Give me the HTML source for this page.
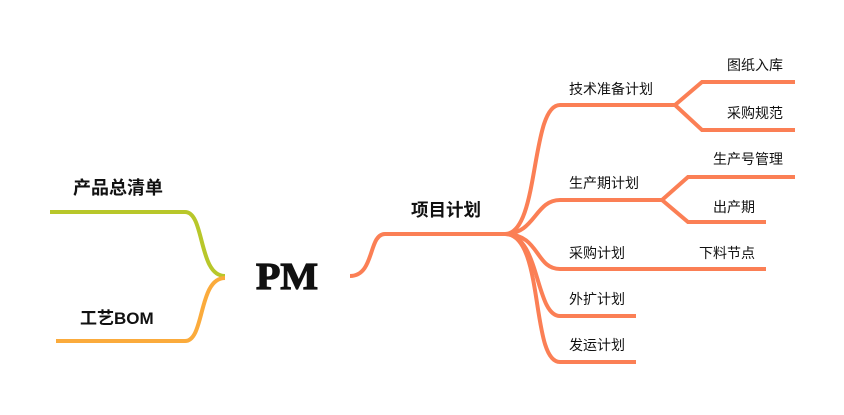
<!DOCTYPE html>
<html><head><meta charset="utf-8"><style>
html,body{margin:0;padding:0;background:#fff;width:844px;height:415px;overflow:hidden}
svg text{font-family:"Liberation Sans","Noto Sans CJK SC",sans-serif;fill:#111}
</style></head><body>
<svg width="844" height="415" viewBox="0 0 844 415" xmlns="http://www.w3.org/2000/svg">
<g fill="none" stroke-width="4" stroke-linecap="butt">
<path d="M50 212 H185 C205 212 198 276 225 276" stroke="#b8c72a"/>
<path d="M56 341 H185 C205 341 198 278 225 278" stroke="#fbab3c"/>
<g stroke="#fb7f55">
<path d="M350 276 C375 276 368 234 385 234 H505"/>
<path d="M505 234 C540 234 530 105 560 105 H675"/>
<path d="M505 234 C535 234 535 200 560 200 H662"/>
<path d="M505 234 C540 234 535 269 560 269 H766"/>
<path d="M505 234 C540 234 535 316 560 316 H636"/>
<path d="M505 234 C545 234 530 362 560 362 H636"/>
<path d="M675 105 L702 82 H795 M675 105 L702 130 H795"/>
<path d="M662 200 L688 177 H795 M662 200 L688 222 H766"/>
</g>
</g>
<text x="73" y="194" font-size="18" font-weight="bold">产品总清单</text>
<text x="80" y="324" font-size="17" font-weight="bold">工艺BOM</text>
<text x="256" y="289" font-size="38" font-weight="bold" stroke="#111" stroke-width="1.2" style="font-family:'Liberation Serif',serif" textLength="62" lengthAdjust="spacingAndGlyphs">PM</text>
<text x="411" y="216" font-size="17.5" font-weight="bold">项目计划</text>
<g font-size="14">
<text x="569" y="94">技术准备计划</text>
<text x="727" y="70">图纸入库</text>
<text x="727" y="118">采购规范</text>
<text x="713" y="164">生产号管理</text>
<text x="569" y="188">生产期计划</text>
<text x="713" y="212">出产期</text>
<text x="569" y="258">采购计划</text>
<text x="699" y="258">下料节点</text>
<text x="569" y="304">外扩计划</text>
<text x="569" y="350">发运计划</text>
</g>
</svg>
</body></html>
